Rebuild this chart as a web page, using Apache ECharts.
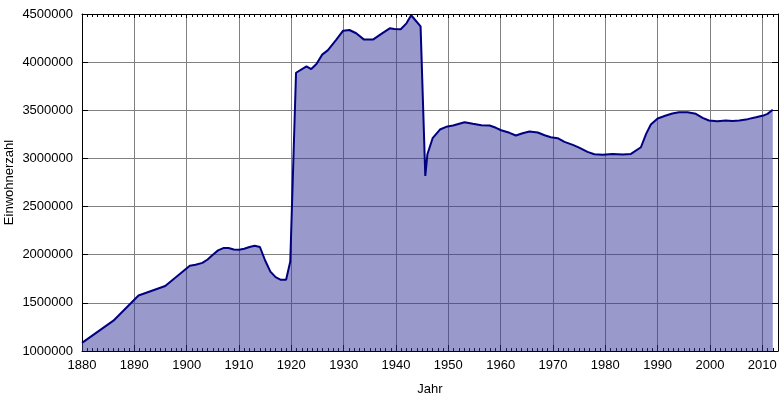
<!DOCTYPE html>
<html>
<head>
<meta charset="utf-8">
<script src="https://cdn.jsdelivr.net/npm/echarts@6/dist/echarts.min.js"></script>
<style>
html,body{margin:0;padding:0;background:#fff;}
#chart{width:784px;height:401px;}
</style>
</head>
<body>
<div id="chart"></div>
<script>
// Year (position on the time axis) of each data point
var years = [1880,1886,1890.8,1895.9,1900.6,1901.7,1903,1904,1905,1906,1907,1908,1909,1910,1911,1912,1913,1914,1915,1916,1917,1918,1919,1919.8,
  1920.9,1922.9,1923.8,1924.8,1925.9,1927,1928.6,1929.9,1931.1,1932.4,1933.9,1935.6,1937.2,1938.8,1939.7,1940.9,1942,1942.9,1944.7,1945.6,1946,1947,1948.4,1949.6,
  1950.9,1953.1,1954.7,1956.3,1957.9,1959.1,1960.1,1961.7,1962.9,1964.2,1965.5,1967.1,1968.4,1969.6,1970.9,1972.2,1973.8,1975,1976.6,1977.9,1979.5,
  1981.4,1983.3,1984.9,1986.8,1987.8,1988.7,1990,1991.6,1992.8,1994.1,1995.7,1997.3,1998.6,1999.8,2001.4,2003,2004.3,2005.6,2007.2,2008.8,2010.4,2011,2012];
// Einwohnerzahl (population)
var population = [1085000,1315000,1577000,1675000,1885000,1895000,1915000,1950000,2000000,2045000,2069000,2069000,2055000,2051000,2062000,2080000,2093000,2080000,1940000,1825000,1767000,1739000,1739000,1929000,
  3890000,3956000,3928000,3980000,4078000,4125000,4234000,4327000,4334000,4300000,4234000,4234000,4293000,4351000,4344000,4341000,4403000,4487000,4372000,2818000,3043000,3210000,3300000,3328000,
  3342000,3376000,3360000,3345000,3342000,3318000,3293000,3266000,3238000,3262000,3280000,3269000,3241000,3220000,3210000,3172000,3141000,3113000,3068000,3043000,3037000,
  3047000,3040000,3047000,3116000,3255000,3352000,3415000,3446000,3467000,3480000,3480000,3463000,3422000,3394000,3387000,3394000,3390000,3394000,3408000,3428000,3449000,3463000,3505000];

var xMin = 1880, xMax = 2013, xStep = 10;
var yMin = 1000000, yMax = 4500000, yStep = 500000;
var xName = 'Jahr', yName = 'Einwohnerzahl';

var data = years.map(function (y, i) { return [y, population[i]]; });

var chart = echarts.init(document.getElementById('chart'), null, {renderer: 'canvas'});
var font = 'Liberation Sans, Arial, sans-serif';
chart.setOption({
  animation: false,
  backgroundColor: '#fff',
  grid: {left: 82, right: 6, top: 14, bottom: 50, containLabel: false, outerBoundsMode: 'none'},
  xAxis: [{
    type: 'value', min: xMin, max: xMax, interval: xStep, position: 'bottom',
    name: xName, nameLocation: 'middle', nameGap: 32, nameMoveOverlap: false,
    nameTextStyle: {color: '#000', fontSize: 13, fontFamily: font},
    axisLine: {show: true, onZero: false, lineStyle: {color: '#000', width: 1}},
    axisTick: {show: true, inside: true, length: 6, lineStyle: {color: '#000'}},
    minorTick: {show: true, splitNumber: 10, length: 3, lineStyle: {color: '#000'}},
    axisLabel: {color: '#000', fontSize: 13, fontFamily: font, margin: 8, showMaxLabel: false,
      formatter: function (v) { return String(v); }},
    splitLine: {show: true, lineStyle: {color: '#808080', width: 1}}
  }, {
    type: 'value', min: xMin, max: xMax, interval: xStep, position: 'top',
    axisLine: {show: true, onZero: false, lineStyle: {color: '#000', width: 1}},
    axisTick: {show: true, inside: true, length: 4, lineStyle: {color: '#000'}},
    minorTick: {show: true, splitNumber: 10, length: 3, lineStyle: {color: '#000'}},
    axisLabel: {show: false},
    splitLine: {show: false}
  }],
  yAxis: [{
    type: 'value', min: yMin, max: yMax, interval: yStep, position: 'left',
    name: yName, nameLocation: 'middle', nameGap: 66, nameRotate: 90, nameMoveOverlap: false,
    nameTextStyle: {color: '#000', fontSize: 13, fontFamily: font},
    axisLine: {show: true, onZero: false, lineStyle: {color: '#000', width: 1}},
    axisTick: {show: true, inside: true, length: 6, lineStyle: {color: '#000'}},
    axisLabel: {color: '#000', fontSize: 13, fontFamily: font, margin: 9,
      formatter: function (v) { return String(v); }},
    splitLine: {show: true, lineStyle: {color: '#808080', width: 1}}
  }, {
    type: 'value', min: yMin, max: yMax, interval: yStep, position: 'right',
    axisLine: {show: true, onZero: false, lineStyle: {color: '#000', width: 1}},
    axisTick: {show: true, inside: true, length: 6, lineStyle: {color: '#000'}},
    axisLabel: {show: false},
    splitLine: {show: false}
  }],
  series: [{
    type: 'line', xAxisIndex: 0, yAxisIndex: 0,
    data: data, showSymbol: false, smooth: false,
    lineStyle: {color: '#000080', width: 2},
    areaStyle: {color: '#333399', opacity: 0.5, origin: 'start'},
    z: 2
  }]
});
</script>
</body>
</html>
